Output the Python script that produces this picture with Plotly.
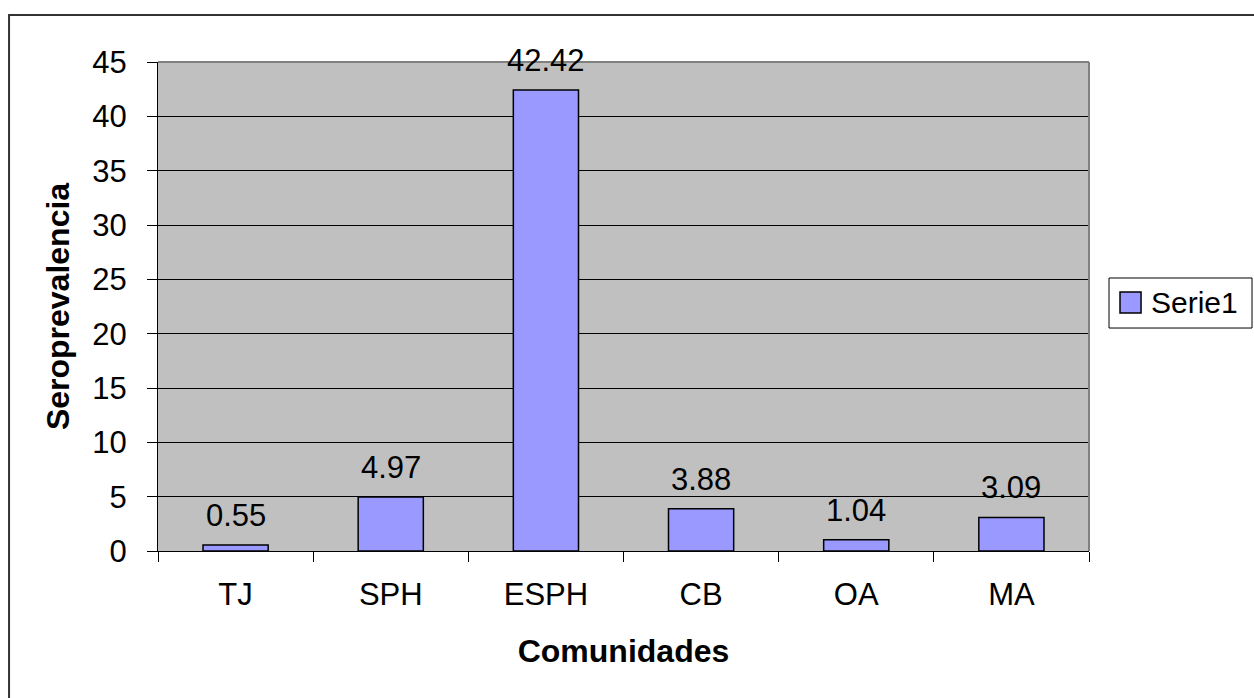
import plotly.graph_objects as go

comunidades = ["TJ", "SPH", "ESPH", "CB", "OA", "MA"]
seroprevalencia = [0.55, 4.97, 42.42, 3.88, 1.04, 3.09]
y_ticks = [0, 5, 10, 15, 20, 25, 30, 35, 40, 45]
serie_name = "Serie1"

FONT = "Liberation Sans, Arial, sans-serif"
BAR_COLOR = "#9999FF"

fig = go.Figure()
fig.add_trace(go.Bar(
    x=comunidades,
    y=seroprevalencia,
    name=serie_name,
    marker=dict(color=BAR_COLOR, line=dict(color="black", width=1.5)),
    showlegend=False,
))

# value labels above each bar
value_labels = [
    dict(x=c, y=v, xref="x", yref="y", text=f"{v:.2f}",
         xanchor="center", yanchor="bottom", yshift=10, showarrow=False,
         font=dict(family=FONT, size=31, color="black"))
    for c, v in zip(comunidades, seroprevalencia)
]

fig.update_layout(
    width=1254, height=698,
    margin=dict(l=158, r=165, t=62, b=147),
    paper_bgcolor="white",
    plot_bgcolor="#C0C0C0",
    bargap=0.58,
    font=dict(family=FONT, size=31, color="black"),
    xaxis=dict(
        tickson="boundaries",
        ticks="outside", ticklen=10, tickcolor="black", tickwidth=1,
        ticklabelstandoff=16,
        showline=True, linecolor="black", linewidth=1,
        showgrid=False,
        tickfont=dict(size=31),
        title=dict(text="<b>Comunidades</b>", font=dict(size=32), standoff=28),
    ),
    yaxis=dict(
        range=[0, 45],
        tickvals=y_ticks,
        ticks="outside", ticklen=10, tickcolor="black", tickwidth=1,
        ticklabelstandoff=14,
        showline=True, linecolor="black", linewidth=1,
        showgrid=True, gridcolor="black", gridwidth=1,
        zeroline=False,
        tickfont=dict(size=31),
        title=dict(text="<b>Seroprevalencia</b>", font=dict(size=32), standoff=13),
    ),
    shapes=[
        # chart frame
        dict(type="rect", xref="paper", yref="paper",
             x0=-0.16, x1=1.2, y0=-0.33, y1=1.096,
             line=dict(color="#333333", width=2), layer="below"),
        # plot area edge (top and right)
        dict(type="line", xref="paper", yref="paper",
             x0=0, x1=1, y0=1, y1=1, line=dict(color="#808080", width=2)),
        dict(type="line", xref="paper", yref="paper",
             x0=1, x1=1, y0=0, y1=1, line=dict(color="#808080", width=2)),
        # legend box and swatch
        dict(type="rect", xref="paper", yref="paper",
             x0=1.0215, x1=1.1751, y0=0.456, y1=0.5583,
             line=dict(color="black", width=1), fillcolor="white"),
        dict(type="rect", xref="paper", yref="paper",
             x0=1.0333, x1=1.0559, y0=0.4867, y1=0.5297,
             line=dict(color="black", width=1.5), fillcolor=BAR_COLOR),
    ],
    annotations=value_labels + [
        dict(text=serie_name, xref="paper", yref="paper",
             x=1.064, y=0.5072, xanchor="left", yanchor="middle",
             showarrow=False, font=dict(family=FONT, size=30, color="black")),
    ],
)

fig.write_html("out.html")
